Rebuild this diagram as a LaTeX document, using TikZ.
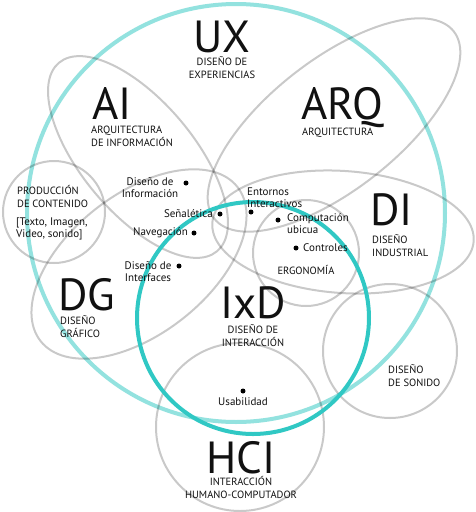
\documentclass[tikz,border=0pt]{standalone}
\usepackage{fontspec}
\setmainfont{PT Sans}
\definecolor{UXTeal}{HTML}{93E2DF}
\definecolor{IxDTeal}{HTML}{30C8C4}
\definecolor{DarkText}{HTML}{111111}

\tikzset{
  ring/.style={draw=black, draw opacity=0.21, line width=2pt},
  biglabel/.style={inner sep=0pt, text=DarkText, text height=32pt, text depth=0pt,
                   font=\fontsize{45}{45}\selectfont},
  caplabel/.style={inner sep=0pt, text=DarkText, font=\fontsize{10.5}{12.5}\selectfont},
  itemlabel/.style={inner sep=0pt, text=DarkText, font=\fontsize{11}{12}\selectfont},
  dot/.style={circle, fill=black, inner sep=0pt, minimum size=5pt}
}

\begin{document}
\begin{tikzpicture}[x=1pt, y=-1pt]
        \fill[white] (0,0) rectangle (476,512);
        \useasboundingbox (0,0) rectangle (476,512);

        % UX
        \draw[UXTeal, line width=4pt] (236,213) circle (209);

        % disciplinas
        \draw[ring, rotate around={-50:(138,157)}] (138,157) ellipse [x radius=123, y radius=56];
        \draw[ring, rotate around={38:(334,125)}] (334,125) ellipse [x radius=152, y radius=65];
        \draw[ring, rotate around={-4:(343,232)}] (343,232) ellipse [x radius=131, y radius=61];
        \draw[ring, rotate around={38:(139,264)}] (139,264) ellipse [x radius=125, y radius=70];
        \draw[ring] (54,212) circle (51);
        \draw[ring] (306,253) circle (53);
        \draw[ring] (390,351) circle (67);
        \draw[ring] (240,427) circle (84);

        % IxD
        \draw[IxDTeal, line width=4pt] (253,318) circle (116);

        \node[biglabel, anchor=base] (ux) at (222,52) {UX};
        \node[caplabel, align=center, anchor=base] (uxtext) at (222,78) {DISEÑO DE\\EXPERIENCIAS};
        \node[biglabel, anchor=base west] (ai) at (92,119) {AI};
        \node[caplabel, align=left, anchor=base west] (aitext) at (91,146) {ARQUITECTURA\\DE INFORMACIÓN};
        \node[biglabel, anchor=base west] (arq) at (301,119) {ARQ};
        \node[caplabel, anchor=base west] (arqtext) at (302,135) {ARQUITECTURA};
        \node[caplabel, align=left, anchor=base west] (prodtext) at (17,207) {PRODUCCIÓN\\DE CONTENIDO};
        \node[itemlabel, align=left, anchor=base west] (prodlist) at (16,237) {[Texto, Imagen,\\Video, sonido]};
        \node[biglabel, anchor=base west] (di) at (370,225) {DI};
        \node[caplabel, align=left, anchor=base west] (ditext) at (372,256) {DISEÑO\\INDUSTRIAL};
        \node[biglabel, anchor=base west] (dg) at (58,310) {DG};
        \node[caplabel, align=left, anchor=base west] (dgtext) at (60,337) {DISEÑO\\GRÁFICO};
        \node[caplabel, anchor=base] (ergo) at (306,274) {ERGONOMÍA};
        \node[biglabel, anchor=base] (ixd) at (253,318) {IxD};
        \node[caplabel, align=center, anchor=base] (ixdtext) at (253,346) {DISEÑO DE\\INTERACCIÓN};
        \node[caplabel, align=left, anchor=base west] (sonido) at (388,386) {DISEÑO\\DE SONIDO};
        \node[biglabel, anchor=base] (hci) at (241,473) {HCI};
        \node[caplabel, align=center, anchor=base] (hcitext) at (241,498) {INTERACCIÓN\\HUMANO-COMPUTADOR};

        \node[dot] (infodot) at (186,183) {};
        \node[itemlabel, align=center, anchor=base] (infotext) at (150,197) {Diseño de\\Información};
        \node[dot] (senaldot) at (220,214) {};
        \node[itemlabel, anchor=base east] (senaltext) at (213,217) {Señalética};
        \node[dot] (navdot) at (194,233) {};
        \node[itemlabel, anchor=base east] (navtext) at (188,235) {Navegación};
        \node[dot] (interfdot) at (179,266) {};
        \node[itemlabel, align=center, anchor=base] (interftext) at (148,281) {Diseño de\\Interfaces};
        \node[dot] (entdot) at (251,212) {};
        \node[itemlabel, align=left, anchor=base west] (enttext) at (247,207) {Entornos\\Interactivos};
        \node[dot] (ubidot) at (278,220) {};
        \node[itemlabel, align=left, anchor=base west] (ubitext) at (287,233) {Computación\\ubicua};
        \node[dot] (ctrldot) at (296,248) {};
        \node[itemlabel, anchor=base west] (ctrltext) at (303,251) {Controles};
        \node[dot] (usadot) at (243,391) {};
        \node[itemlabel, anchor=base] (usatext) at (243,405) {Usabilidad};
      \end{tikzpicture}
\end{document}
